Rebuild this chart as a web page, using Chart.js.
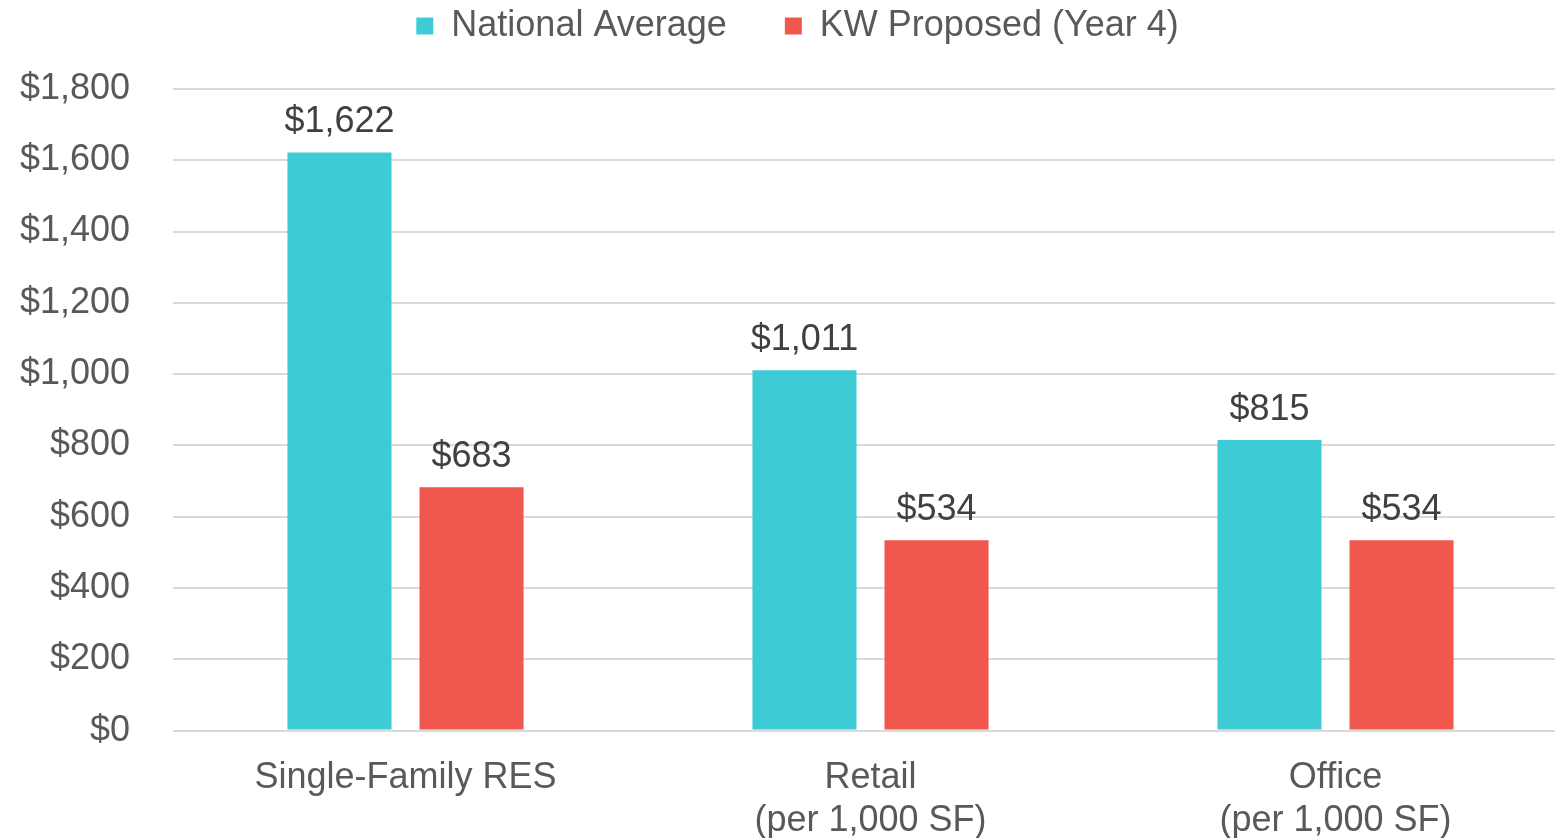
<!DOCTYPE html>
<html>
<head>
<meta charset="utf-8">
<script src="https://cdn.jsdelivr.net/npm/chart.js@4"></script>
<style>
  html, body { margin: 0; padding: 0; background: #fff; }
  #wrap { width: 1555px; height: 838px; }
</style>
</head>
<body>
<div id="wrap"><canvas id="feeChart"></canvas></div>
<script>
const categories = [['Single-Family RES'], ['Retail', '(per 1,000 SF)'], ['Office', '(per 1,000 SF)']];
const nationalAverage = [1622, 1011, 815];
const kwProposed = [683, 534, 534];
const yTicks = [0, 200, 400, 600, 800, 1000, 1200, 1400, 1600, 1800];

const money = v => '$' + v.toLocaleString('en-US');

// value labels above each bar
const barLabels = {
  id: 'barLabels',
  afterDatasetsDraw(chart) {
    const ctx = chart.ctx;
    ctx.save();
    ctx.font = '36px "Liberation Sans", Arial, sans-serif';
    ctx.fillStyle = '#404040';
    ctx.textAlign = 'center';
    ctx.textBaseline = 'alphabetic';
    chart.data.datasets.forEach((ds, i) => {
      chart.getDatasetMeta(i).data.forEach((bar, j) => {
        ctx.fillText(money(ds.data[j]), bar.x, bar.y - 20);
      });
    });
    ctx.restore();
  }
};

// extra room under the legend, nudge it right, and let the x axis run past the canvas edge
const layoutTweak = {
  id: 'layoutTweak',
  afterInit(chart) {
    const lg = chart.legend;
    const fit = lg.fit;
    lg.fit = function () { fit.call(this); this.height += 35; };
  },
  afterLayout(chart) {
    chart.legend.left += 20;
    chart.legend.right += 20;
    const x = chart.scales.x;
    x.right += 13;
    x.width += 13;
    x.configure();
  }
};

Chart.defaults.font.family = '"Liberation Sans", Arial, sans-serif';
Chart.defaults.color = '#595959';

new Chart(document.getElementById('feeChart').getContext('2d'), {
  type: 'bar',
  data: {
    labels: categories,
    datasets: [{
      label: 'National Average',
      data: nationalAverage,
      backgroundColor: '#3ECBD5'
    }, {
      label: 'KW Proposed (Year 4)',
      data: kwProposed,
      backgroundColor: '#F0574D'
    }]
  },
  options: {
    responsive: true,
    maintainAspectRatio: false,
    animation: false,
    categoryPercentage: 0.568,
    barPercentage: 0.788,
    layout: { padding: { top: 0, right: 0, bottom: -23, left: 0 } },
    plugins: {
      legend: {
        position: 'top',
        labels: {
          boxWidth: 17,
          boxHeight: 17,
          padding: 8,
          font: { size: 36 },
          color: '#595959',
          generateLabels: chart => {
            const items = Chart.defaults.plugins.legend.labels.generateLabels(chart);
            items[0].text += '     ';
            return items;
          }
        }
      },
      tooltip: { enabled: false }
    },
    scales: {
      x: {
        grid: { display: false },
        border: { display: false },
        ticks: { font: { size: 36 }, color: '#595959', padding: 18 }
      },
      y: {
        min: 0,
        max: 1800,
        afterBuildTicks: axis => { axis.ticks = yTicks.map(v => ({ value: v })); },
        afterFit: axis => { axis.width = 173; },
        grid: { color: '#D9D9D9', lineWidth: 2, drawTicks: false },
        border: { display: false },
        ticks: {
          font: { size: 36 },
          color: '#595959',
          padding: 43,
          callback: v => money(v)
        }
      }
    }
  },
  plugins: [barLabels, layoutTweak]
});
</script>
</body>
</html>
